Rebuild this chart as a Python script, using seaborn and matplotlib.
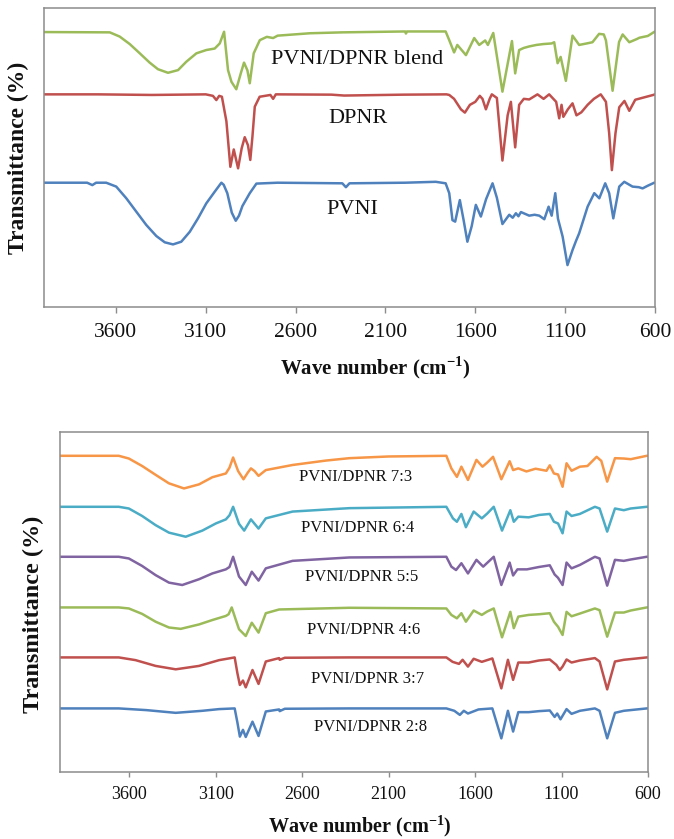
import matplotlib
matplotlib.use("Agg")
import matplotlib.pyplot as plt
import seaborn as sns
import pandas as pd

# ---------------- FTIR spectra: PVNI, DPNR and their blend (stacked, offset) ----------------
blend_wn = [4000, 3634, 3579, 3523, 3467, 3412, 3366, 3310, 3254, 3208, 3152, 3097, 3050, 3022,
            2998, 2976, 2957, 2930, 2905, 2887, 2868, 2855, 2833, 2799, 2760, 2725, 2700, 2520,
            2340, 1990, 1986, 1980, 1765, 1745, 1718, 1700, 1652, 1606, 1578, 1545, 1530, 1500,
            1449, 1396, 1378, 1356, 1330, 1300, 1260, 1220, 1175, 1161, 1142, 1125, 1096, 1059,
            1022, 980, 948, 911, 885, 873, 836, 800, 780, 743, 700, 687, 640, 600]
blend_t = [91.8, 91.7, 90.3, 87.8, 84.7, 81.6, 79.4, 78.2, 79.1, 81.9, 84.7, 85.8, 86.3, 88.0,
           91.9, 79.1, 75.2, 72.7, 78.0, 81.6, 79.0, 74.7, 84.7, 89.1, 90.2, 89.8, 90.6, 91.4,
           91.7, 92.0, 91.3, 92.0, 92.0, 89.1, 85.0, 87.5, 84.1, 89.8, 87.5, 89.0, 87.5, 91.5,
           71.9, 88.8, 78.0, 85.8, 86.5, 87.0, 87.5, 87.8, 88.0, 88.4, 81.4, 83.5, 75.5, 90.6,
           87.5, 88.0, 88.4, 91.2, 91.0, 89.0, 72.2, 88.5, 91.0, 88.4, 89.5, 89.9, 90.5, 92.0]

dpnr_wn = [4000, 3700, 3400, 3100, 3060, 3041, 3025, 3010, 2985, 2963, 2944, 2920, 2900, 2883,
           2865, 2852, 2840, 2827, 2800, 2740, 2725, 2710, 2400, 2330, 2000, 1760, 1745, 1718,
           1680, 1658, 1630, 1600, 1575, 1560, 1541, 1520, 1508, 1480, 1449, 1420, 1402, 1378,
           1356, 1330, 1300, 1254, 1220, 1189, 1150, 1133, 1120, 1110, 1085, 1059, 1037, 1010,
           975, 940, 902, 873, 855, 840, 820, 799, 770, 743, 710, 660, 610, 600]
dpnr_t = [71.0, 71.0, 70.8, 71.0, 70.5, 69.1, 70.5, 70.2, 62.0, 46.8, 52.6, 46.3, 53.0, 56.7,
          54.0, 49.1, 57.0, 66.9, 70.2, 70.8, 69.5, 71.0, 70.9, 70.6, 70.9, 71.0, 70.8, 69.5,
          66.0, 64.9, 67.5, 68.5, 70.5, 69.5, 66.0, 69.5, 71.0, 69.8, 48.9, 64.0, 68.5, 53.3,
          67.5, 69.5, 69.3, 71.0, 69.5, 71.0, 68.5, 63.0, 67.5, 63.5, 66.0, 68.0, 64.0, 65.0,
          67.5, 69.5, 71.0, 68.5, 58.0, 45.7, 58.0, 66.7, 68.8, 65.5, 69.2, 70.0, 70.8, 71.0]

pvni_wn = [4000, 3760, 3731, 3710, 3654, 3598, 3542, 3486, 3431, 3375, 3328, 3282, 3236, 3189,
           3143, 3097, 3050, 3013, 3000, 2980, 2955, 2933, 2915, 2896, 2855, 2818, 2700, 2340,
           2320, 2300, 1990, 1820, 1765, 1745, 1727, 1712, 1686, 1665, 1644, 1620, 1597, 1569,
           1540, 1504, 1480, 1449, 1411, 1392, 1374, 1360, 1346, 1300, 1270, 1244, 1216, 1192,
           1175, 1155, 1140, 1114, 1087, 1059, 1040, 1022, 975, 938, 910, 877, 855, 832, 799,
           771, 725, 690, 669, 640, 604, 600]
pvni_t = [41.5, 41.5, 40.7, 41.5, 41.5, 40.2, 36.3, 31.8, 27.4, 23.7, 21.6, 20.9, 21.8, 25.1,
          29.6, 34.6, 38.5, 41.5, 40.8, 38.0, 31.5, 28.8, 30.5, 33.7, 38.0, 41.2, 41.5, 41.3,
          40.0, 41.3, 41.5, 41.8, 41.3, 38.0, 29.0, 28.5, 35.7, 29.0, 21.8, 27.0, 34.1, 30.2,
          36.0, 41.3, 36.5, 27.7, 30.8, 29.8, 31.3, 30.3, 31.7, 30.5, 30.8, 30.5, 29.3, 33.5,
          30.5, 38.0, 29.5, 23.5, 14.0, 19.0, 22.0, 24.6, 33.5, 38.0, 36.3, 41.3, 38.0, 29.6,
          40.2, 41.8, 40.2, 40.0, 39.6, 40.5, 41.5, 41.5]

# ---------------- FTIR spectra of PVNI/DPNR blends at different ratios ----------------
r73_wn = [4000, 3660, 3602, 3525, 3447, 3370, 3283, 3196, 3119, 3041, 3020, 2999, 2970, 2939,
          2915, 2896, 2875, 2852, 2810, 2655, 2462, 2327, 2100, 1766, 1737, 1705, 1679, 1641,
          1592, 1557, 1530, 1496, 1448, 1400, 1380, 1350, 1303, 1250, 1187, 1168, 1144, 1120,
          1094, 1071, 1042, 994, 950, 897, 870, 836, 791, 740, 700, 607, 600]
r73_t = [93.0, 93.0, 92.2, 90.0, 87.4, 84.9, 83.4, 84.6, 86.7, 87.8, 89.5, 92.5, 88.5, 86.1,
         88.0, 89.3, 88.5, 87.1, 88.8, 90.3, 91.6, 92.3, 92.8, 93.0, 89.3, 86.8, 89.8, 85.9,
         91.8, 89.8, 91.0, 92.7, 86.1, 91.4, 88.8, 89.3, 88.4, 89.2, 88.6, 90.2, 87.8, 87.5,
         83.9, 90.8, 88.6, 89.8, 90.0, 92.7, 91.5, 85.4, 92.3, 92.2, 92.0, 93.0, 93.0]

r64_wn = [4000, 3660, 3602, 3525, 3447, 3370, 3273, 3177, 3099, 3041, 3020, 2999, 2965, 2935,
          2896, 2852, 2810, 2655, 2327, 1766, 1728, 1705, 1679, 1653, 1608, 1561, 1530, 1492,
          1444, 1396, 1376, 1350, 1290, 1230, 1168, 1144, 1120, 1094, 1071, 1042, 994, 907,
          880, 836, 791, 740, 700, 607, 600]
r64_t = [78.0, 78.0, 77.5, 75.3, 72.6, 70.4, 69.2, 71.0, 73.1, 74.3, 75.5, 78.0, 73.0, 71.0,
         74.3, 71.6, 74.6, 76.6, 77.6, 78.0, 74.6, 73.6, 75.9, 72.0, 76.6, 74.6, 76.0, 78.0,
         71.0, 77.0, 73.6, 75.1, 74.9, 75.6, 75.9, 73.6, 73.1, 70.2, 76.6, 75.3, 75.9, 78.0,
         77.5, 70.7, 77.5, 77.0, 77.5, 78.0, 78.0]

r55_wn = [4000, 3660, 3602, 3525, 3447, 3370, 3293, 3196, 3119, 3041, 3020, 2999, 2965, 2926,
          2891, 2852, 2810, 2655, 2327, 1766, 1737, 1710, 1679, 1641, 1592, 1553, 1530, 1492,
          1448, 1400, 1380, 1355, 1300, 1230, 1168, 1140, 1120, 1094, 1071, 1042, 994, 907,
          880, 836, 791, 740, 700, 607, 600]
r55_t = [63.3, 63.3, 62.8, 60.6, 57.9, 55.7, 55.0, 56.7, 58.4, 59.6, 60.3, 63.3, 57.5, 55.0,
         58.9, 56.3, 59.9, 62.1, 63.1, 63.3, 60.4, 59.4, 61.4, 58.4, 62.4, 60.4, 61.5, 63.3,
         55.0, 61.6, 57.8, 59.6, 59.6, 60.3, 60.8, 58.1, 57.1, 55.0, 61.6, 59.9, 60.9, 63.3,
         62.8, 54.8, 62.4, 62.1, 62.5, 63.3, 63.3]

r46_wn = [4000, 3660, 3602, 3525, 3447, 3370, 3302, 3196, 3119, 3041, 3025, 3007, 2985, 2965,
          2926, 2891, 2852, 2810, 2733, 2327, 1766, 1737, 1705, 1679, 1653, 1608, 1561, 1530,
          1492, 1444, 1396, 1376, 1350, 1290, 1230, 1168, 1144, 1120, 1094, 1071, 1042, 994,
          907, 880, 836, 791, 740, 700, 607, 600]
r46_t = [48.4, 48.4, 48.1, 46.5, 44.2, 42.5, 42.1, 43.4, 44.7, 45.9, 46.4, 48.4, 45.0, 42.0,
         40.0, 43.9, 41.0, 46.7, 47.8, 48.3, 48.1, 46.2, 45.2, 46.7, 44.2, 47.5, 46.2, 47.2,
         48.1, 39.6, 47.1, 42.3, 45.7, 46.2, 46.4, 46.7, 44.2, 42.7, 40.3, 47.1, 45.8, 46.6,
         48.1, 47.6, 39.8, 46.9, 46.9, 47.5, 48.4, 48.4]

r37_wn = [4000, 3660, 3563, 3447, 3331, 3196, 3080, 2990, 2974, 2960, 2942, 2926, 2887, 2852,
          2810, 2733, 2730, 2700, 2327, 1766, 1730, 1693, 1672, 1641, 1608, 1561, 1500, 1448,
          1410, 1380, 1350, 1290, 1230, 1168, 1130, 1110, 1094, 1071, 1042, 994, 907, 880,
          836, 791, 740, 607, 600]
r37_t = [33.7, 33.7, 32.9, 31.2, 30.2, 31.2, 32.9, 33.7, 29.0, 25.6, 26.9, 24.9, 30.0, 25.9,
         32.5, 33.5, 33.0, 33.6, 33.7, 33.7, 32.4, 31.8, 33.0, 31.0, 33.3, 32.4, 33.4, 24.6,
         33.0, 27.1, 32.2, 32.2, 32.8, 33.1, 31.5, 30.0, 31.0, 33.1, 32.2, 32.8, 33.5, 32.5,
         24.3, 32.5, 33.0, 33.7, 33.7]

r28_wn = [4000, 3660, 3500, 3331, 3177, 3080, 2990, 2974, 2960, 2942, 2926, 2887, 2852, 2810,
          2733, 2730, 2700, 2327, 1766, 1720, 1688, 1665, 1641, 1580, 1500, 1448, 1410, 1380,
          1350, 1290, 1230, 1168, 1140, 1125, 1106, 1071, 1042, 994, 907, 880, 836, 791, 740,
          607, 600]
r28_t = [18.7, 18.7, 18.2, 17.4, 18.0, 18.5, 18.7, 14.5, 10.4, 12.4, 10.3, 14.8, 10.6, 17.8,
         18.4, 17.9, 18.6, 18.7, 18.7, 18.0, 16.8, 18.0, 17.2, 18.4, 18.7, 9.9, 18.0, 11.9,
         17.6, 17.6, 17.9, 18.1, 16.2, 17.2, 15.5, 18.5, 17.1, 18.0, 18.7, 18.0, 9.9, 17.4,
         18.0, 18.7, 18.7]

tick_values = [3600, 3100, 2600, 2100, 1600, 1100, 600]

top_series = [("PVNI/DPNR blend", blend_wn, blend_t, "#9BBB59", (2258, 82.5)),
              ("DPNR", dpnr_wn, dpnr_t, "#C0504D", (2252, 63.1)),
              ("PVNI", pvni_wn, pvni_t, "#4F81BD", (2286, 32.4))]
bottom_series = [("PVNI/DPNR 7:3", r73_wn, r73_t, "#F79646", (2292, 86.9)),
                 ("PVNI/DPNR 6:4", r64_wn, r64_t, "#4BACC6", (2277, 71.9)),
                 ("PVNI/DPNR 5:5", r55_wn, r55_t, "#8064A2", (2258, 57.3)),
                 ("PVNI/DPNR 4:6", r46_wn, r46_t, "#9BBB59", (2247, 41.8)),
                 ("PVNI/DPNR 3:7", r37_wn, r37_t, "#C0504D", (2219, 27.3)),
                 ("PVNI/DPNR 2:8", r28_wn, r28_t, "#4F81BD", (2202, 13.1))]

sns.set_theme(style="white")
plt.rcParams["font.family"] = ["Liberation Serif", "DejaVu Serif"]
plt.rcParams["mathtext.fontset"] = "custom"
plt.rcParams["mathtext.rm"] = "Liberation Serif"
plt.rcParams["mathtext.bf"] = "Liberation Serif:bold"

W, H = 674, 839
fig = plt.figure(figsize=(W / 100, H / 100), dpi=100)
fig.patch.set_facecolor("white")


def px_axes(left, top, right, bottom):
    return fig.add_axes([left / W, 1 - bottom / H, (right - left) / W, (bottom - top) / H])


def draw_panel(ax, series, tick_size, label_size, tick_len, tick_pad):
    for name, wn, t, color, (lx, ly) in series:
        df = pd.DataFrame({"wn": wn, "t": t})
        sns.lineplot(data=df, x="wn", y="t", ax=ax, color=color, lw=1.8,
                     estimator=None, sort=False)
        ax.text(lx, ly, name, ha="center", va="center", fontsize=label_size, color="#111111")
    ax.set_xlim(4000, 600)
    ax.set_ylim(0, 100)
    ax.set_xticks(tick_values)
    ax.set_xticklabels([str(v) for v in tick_values], fontsize=tick_size)
    ax.set_yticks([])
    ax.set_xlabel("")
    ax.set_ylabel("")
    for sp in ax.spines.values():
        sp.set_visible(True)
        sp.set_color("#8C8C8C")
        sp.set_linewidth(1.1)
    ax.tick_params(axis="x", direction="out", length=tick_len, width=1, color="#8C8C8C",
                   pad=tick_pad, labelcolor="#111111", bottom=True)


ax1 = px_axes(44, 7.5, 655, 307)
draw_panel(ax1, top_series, 15.5, 16, 4.5, 7)
ax2 = px_axes(60, 432, 648, 772)
draw_panel(ax2, bottom_series, 13, 12, 3.8, 6.5)

xlabel = r"Wave number (cm$^{\mathbf{-1}}$)"
fig.text(375 / W, 1 - 368 / H, xlabel, ha="center", va="center",
         fontsize=15, fontweight="bold", color="#111111")
fig.text(360 / W, 1 - 826 / H, xlabel, ha="center", va="center",
         fontsize=14.5, fontweight="bold", color="#111111")
fig.text(18 / W, 1 - 158 / H, "Transmittance (%)", rotation=90, ha="center", va="center",
         fontsize=17, fontweight="bold", color="#111111")
fig.text(33 / W, 1 - 614 / H, "Transmittance (%)", rotation=90, ha="center", va="center",
         fontsize=17.5, fontweight="bold", color="#111111")

fig.savefig("out.png", dpi=100, facecolor="white")
